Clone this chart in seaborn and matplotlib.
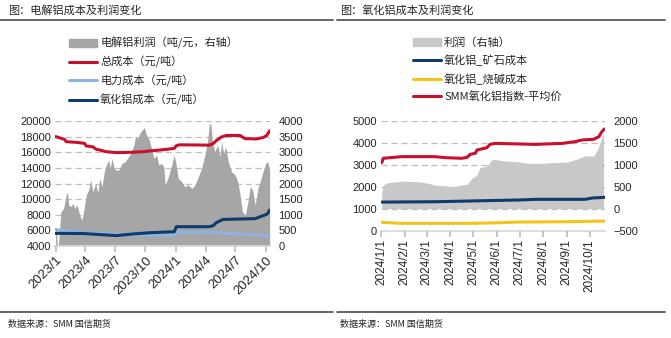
import pandas as pd
import numpy as np
import matplotlib
matplotlib.use("Agg")
import matplotlib.pyplot as plt
import matplotlib.dates as mdates
from matplotlib.lines import Line2D
from matplotlib.patches import Patch
import seaborn as sns

# ---- 左图：电解铝 ----
profit_dates = ["2023-01-01", "2023-01-04", "2023-01-06", "2023-01-09", "2023-01-17", "2023-01-25",
                "2023-02-02", "2023-02-06", "2023-02-10", "2023-02-16", "2023-02-22", "2023-03-01",
                "2023-03-07", "2023-03-15", "2023-03-22", "2023-03-27", "2023-04-04", "2023-04-11",
                "2023-04-18", "2023-04-24", "2023-05-03", "2023-05-09", "2023-05-15", "2023-05-22",
                "2023-05-29", "2023-06-04", "2023-06-11", "2023-06-16", "2023-06-21", "2023-06-27",
                "2023-07-02", "2023-07-12", "2023-07-22", "2023-08-01", "2023-08-11", "2023-08-19",
                "2023-08-27", "2023-09-01", "2023-09-08", "2023-09-14", "2023-09-21", "2023-09-28",
                "2023-10-04", "2023-10-11", "2023-10-18", "2023-10-27", "2023-11-04", "2023-11-11",
                "2023-11-18", "2023-11-26", "2023-11-30", "2023-12-10", "2023-12-20", "2023-12-27",
                "2024-01-01", "2024-01-09", "2024-01-19", "2024-01-29", "2024-02-08", "2024-02-19",
                "2024-02-29", "2024-03-10", "2024-03-20", "2024-03-30", "2024-04-07", "2024-04-12",
                "2024-04-17", "2024-04-22", "2024-04-29", "2024-05-08", "2024-05-15", "2024-05-20",
                "2024-05-26", "2024-06-01", "2024-06-09", "2024-06-19", "2024-06-30", "2024-07-08",
                "2024-07-15", "2024-07-22", "2024-07-31", "2024-08-08", "2024-08-15", "2024-08-22",
                "2024-08-30", "2024-09-07", "2024-09-14", "2024-09-24", "2024-10-01", "2024-10-07",
                "2024-10-13"]
profit_vals = [565, 560, 0, 0, 1100, 1200,
               1630, 1720, 1310, 1260, 1365, 1200,
               1330, 990, 830, 1100, 1630, 1790,
               2110, 1740, 2005, 1685, 2165, 1900,
               2380, 2590, 2750, 2485, 2805, 2540,
               2430, 2430, 2645, 2700, 2860, 3020,
               3230, 3500, 3445, 3605, 3710, 3790,
               3550, 3445, 3180, 2805, 2910, 2590,
               2645, 2540, 1950, 2220, 2590, 2910,
               2700, 2165, 2060, 1900, 1950, 1845,
               1950, 2220, 2485, 2910, 3340, 3870,
               3925, 3340, 3020, 3230, 2860, 3340,
               2965, 3180, 2700, 2380, 2270, 2060,
               1630, 1100, 990, 1420, 1900, 1790,
               1310, 1845, 2060, 2430, 2645, 2700,
               2430]

total_dates = ["2023-01-01", "2023-01-28", "2023-02-02", "2023-03-05", "2023-03-30", "2023-04-04",
               "2023-04-24", "2023-05-05", "2023-05-15", "2023-06-03", "2023-07-05", "2023-08-24",
               "2023-09-24", "2023-10-14", "2023-12-04", "2023-12-28", "2024-01-03", "2024-01-13",
               "2024-03-14", "2024-04-12", "2024-04-24", "2024-05-04", "2024-05-19", "2024-06-04",
               "2024-07-15", "2024-07-30", "2024-09-03", "2024-09-24", "2024-10-04", "2024-10-13"]
total_cost = [18000, 17650, 17350, 17270, 17140, 16800,
              16700, 16370, 16290, 16075, 15950, 16000,
              16075, 16160, 16370, 16500, 16840, 16950,
              16930, 16900, 17100, 17500, 17950, 18150,
              18150, 17750, 17700, 17900, 18150, 18750]

power_dates = ["2023-01-01", "2023-02-02", "2023-05-15", "2023-08-24", "2023-12-04", "2023-12-29",
               "2024-01-03", "2024-04-24", "2024-06-24", "2024-08-24", "2024-10-13"]
power_cost = [6100, 5900, 5600, 5400, 5400, 5420,
              5800, 5750, 5600, 5450, 5350]

alumina_dates = ["2023-01-01", "2023-03-25", "2023-07-05", "2023-08-24", "2023-10-14", "2023-12-28",
                 "2024-01-03", "2024-04-12", "2024-04-24", "2024-05-04", "2024-05-24", "2024-08-30",
                 "2024-09-24", "2024-10-06", "2024-10-13"]
alumina_cost = [5620, 5600, 5330, 5540, 5700, 5830,
                6470, 6470, 6600, 7000, 7400, 7500,
                7900, 8100, 8600]

# ---- 右图：氧化铝 ----
ao_profit_dates = ["2024-01-02", "2024-01-04", "2024-01-09", "2024-01-20", "2024-02-02", "2024-02-19",
                   "2024-03-03", "2024-03-12", "2024-03-30", "2024-04-03", "2024-04-16", "2024-04-23",
                   "2024-04-29", "2024-05-06", "2024-05-10", "2024-05-19", "2024-05-25", "2024-05-30",
                   "2024-06-08", "2024-06-30", "2024-07-13", "2024-07-30", "2024-08-13", "2024-09-03",
                   "2024-09-17", "2024-09-25", "2024-10-06", "2024-10-11", "2024-10-15", "2024-10-19"]
ao_profit = [390, 540, 590, 615, 630, 615,
             580, 540, 515, 500, 540, 560,
             690, 770, 940, 970, 1110, 1125,
             1095, 1070, 1035, 1035, 1050, 1070,
             1150, 1210, 1200, 1340, 1530, 1720]

index_dates = ["2024-01-02", "2024-01-04", "2024-01-28", "2024-03-12", "2024-03-25", "2024-04-16",
               "2024-04-23", "2024-04-27", "2024-05-04", "2024-05-06", "2024-05-12", "2024-05-19",
               "2024-05-23", "2024-05-30", "2024-07-22", "2024-08-26", "2024-09-12", "2024-09-21",
               "2024-10-06", "2024-10-13", "2024-10-16", "2024-10-20"]
index_price = [3100, 3300, 3375, 3375, 3330, 3300,
               3345, 3480, 3530, 3680, 3725, 3785,
               3935, 3980, 3935, 3980, 4060, 4135,
               4165, 4285, 4470, 4635]

ore_dates = ["2024-01-02", "2024-03-12", "2024-05-19", "2024-06-30", "2024-07-22", "2024-09-25",
             "2024-10-04", "2024-10-20"]
ore_cost = [1305, 1320, 1370, 1400, 1430, 1430, 1490, 1520]

soda_dates = ["2024-01-02", "2024-01-28", "2024-03-12", "2024-04-27", "2024-06-08", "2024-06-30",
              "2024-09-03", "2024-10-20"]
soda_cost = [380, 335, 335, 335, 365, 395, 410, 440]

RED = "#C8102E"
NAVY = "#0E3B6B"
LIGHTBLUE = "#8FB3E0"
YELLOW = "#F0C419"
GRAY_L = "#A6A6A6"
GRAY_R = "#C8C8C8"
GRID = "#BFBFBF"

sns.set_theme(style="white")
plt.rcParams["font.family"] = ["Noto Sans CJK SC", "DejaVu Sans"]
NUMFONT = ["Liberation Sans", "DejaVu Sans"]

fig = plt.figure(figsize=(6.71, 3.38), dpi=100)
fig.patch.set_facecolor("white")


def style_axes(ax, ax2, xsize):
    for a in (ax, ax2):
        for s in a.spines.values():
            s.set_visible(False)
        a.patch.set_visible(False)
    ax2.spines["bottom"].set_visible(True)
    ax2.spines["bottom"].set_color("#D9D9D9")
    ax.tick_params(axis="y", length=0, labelsize=8, labelcolor="#262626", pad=3)
    ax2.tick_params(axis="y", length=0, labelsize=8, labelcolor="#262626", pad=6)
    ax.tick_params(axis="x", length=4, color="#BFBFBF", labelsize=xsize, labelcolor="#262626",
                   bottom=True, pad=2)
    for lab in ax.get_yticklabels() + ax2.get_yticklabels() + ax.get_xticklabels():
        lab.set_family(NUMFONT)
    ax2.set_ylabel("")
    ax.set_ylabel("")
    ax.set_xlabel("")


# ---------- 左图 ----------
axL = fig.add_axes([55 / 671, 1 - 246 / 338, 215 / 671, 125 / 338])
axL2 = axL.twinx()
axL.set_zorder(axL2.get_zorder() + 1)

axL2.fill_between(pd.to_datetime(profit_dates), 0, profit_vals, color=GRAY_L, linewidth=0, zorder=2)
axL2.set_ylim(0, 4000)
axL2.set_yticks(np.arange(0, 4001, 500))
axL2.yaxis.grid(True, color=GRID, linestyle=(0, (5, 3)), linewidth=0.9, zorder=0)
axL2.set_axisbelow(True)

sns.lineplot(x=pd.to_datetime(total_dates), y=total_cost, ax=axL, color=RED, linewidth=2.2)
sns.lineplot(x=pd.to_datetime(power_dates), y=power_cost, ax=axL, color=LIGHTBLUE, linewidth=2.2)
sns.lineplot(x=pd.to_datetime(alumina_dates), y=alumina_cost, ax=axL, color=NAVY, linewidth=2.2)
axL.set_ylim(4000, 20000)
axL.set_yticks(np.arange(4000, 20001, 2000))
axL.set_xlim(pd.Timestamp("2022-12-30"), pd.Timestamp("2024-10-14"))
axL.xaxis.set_major_locator(mdates.MonthLocator(bymonth=[1, 4, 7, 10]))
axL.xaxis.set_major_formatter(plt.FuncFormatter(
    lambda v, p: f"{mdates.num2date(v).year}/{mdates.num2date(v).month}"))
style_axes(axL, axL2, 9.5)
for lab in axL.get_xticklabels():
    lab.set_rotation(45)
    lab.set_ha("right")
    lab.set_rotation_mode("anchor")

# ---------- 右图 ----------
axR = fig.add_axes([381 / 671, 1 - 230.7 / 338, 224 / 671, 109.7 / 338])
axR2 = axR.twinx()
axR.set_zorder(axR2.get_zorder() + 1)

axR2.fill_between(pd.to_datetime(ao_profit_dates), 0, ao_profit, color=GRAY_R, linewidth=0, zorder=2)
axR2.set_ylim(-500, 2000)
axR2.set_yticks(np.arange(-500, 2001, 500))
axR2.set_yticklabels(["\u2212500", "0", "500", "1000", "1500", "2000"])
axR2.yaxis.grid(True, color=GRID, linestyle=(0, (5, 3)), linewidth=0.9, zorder=0)
axR2.set_axisbelow(True)

sns.lineplot(x=pd.to_datetime(ore_dates), y=ore_cost, ax=axR, color=NAVY, linewidth=2.2)
sns.lineplot(x=pd.to_datetime(soda_dates), y=soda_cost, ax=axR, color=YELLOW, linewidth=2.2)
sns.lineplot(x=pd.to_datetime(index_dates), y=index_price, ax=axR, color=RED, linewidth=2.2)
axR.set_ylim(0, 5000)
axR.set_yticks(np.arange(0, 5001, 1000))
axR.set_xlim(pd.Timestamp("2024-01-01"), pd.Timestamp("2024-10-21"))
axR.xaxis.set_major_locator(mdates.MonthLocator())
axR.xaxis.set_major_formatter(plt.FuncFormatter(
    lambda v, p: f"{mdates.num2date(v).year}/{mdates.num2date(v).month}/{mdates.num2date(v).day}"))
style_axes(axR, axR2, 8.5)
for lab in axR.get_xticklabels():
    lab.set_rotation(90)
    lab.set_ha("center")
    lab.set_va("top")

# ---------- 图例 ----------
leg_kw = dict(loc="upper left", frameon=False, fontsize=8, handlelength=2.5,
              handletextpad=0.3, labelspacing=0.62, borderpad=0, borderaxespad=0)
fig.legend(handles=[Patch(color=GRAY_L, label="电解铝利润（吨/元，右轴）"),
                    Line2D([], [], color=RED, lw=2.2, label="总成本（元/吨）"),
                    Line2D([], [], color=LIGHTBLUE, lw=2.2, label="电力成本（元/吨）"),
                    Line2D([], [], color=NAVY, lw=2.2, label="氧化铝成本（元/吨）")],
           bbox_to_anchor=(69 / 671, 1 - 37 / 338), **leg_kw)
fig.legend(handles=[Patch(color=GRAY_R, label="利润（右轴）"),
                    Line2D([], [], color=NAVY, lw=2.2, label="氧化铝_矿石成本"),
                    Line2D([], [], color=YELLOW, lw=2.2, label="氧化铝_烧碱成本"),
                    Line2D([], [], color=RED, lw=2.2, label="SMM氧化铝指数-平均价")],
           bbox_to_anchor=(413 / 671, 1 - 37 / 338), **leg_kw)

# ---------- 标题、分隔线、来源 ----------
fig.text(8 / 671, 1 - 10 / 338, "图：电解铝成本及利润变化", fontsize=8, va="center", color="#262626")
fig.text(340 / 671, 1 - 10 / 338, "图：氧化铝成本及利润变化", fontsize=8, va="center", color="#262626")
for x0, x1 in [(0, 333), (337, 665)]:
    fig.add_artist(Line2D([x0 / 671, x1 / 671], [1 - 20 / 338] * 2, color="#595959", lw=1.3))
    fig.add_artist(Line2D([x0 / 671, x1 / 671], [1 - 312 / 338] * 2, color="#595959", lw=1.3))
fig.text(8 / 671, 1 - 324 / 338, "数据来源：SMM 国信期货", fontsize=6.5, va="center", color="#262626")
fig.text(340 / 671, 1 - 324 / 338, "数据来源：SMM 国信期货", fontsize=6.5, va="center", color="#262626")

fig.savefig("out.png", dpi=100, facecolor="white")
